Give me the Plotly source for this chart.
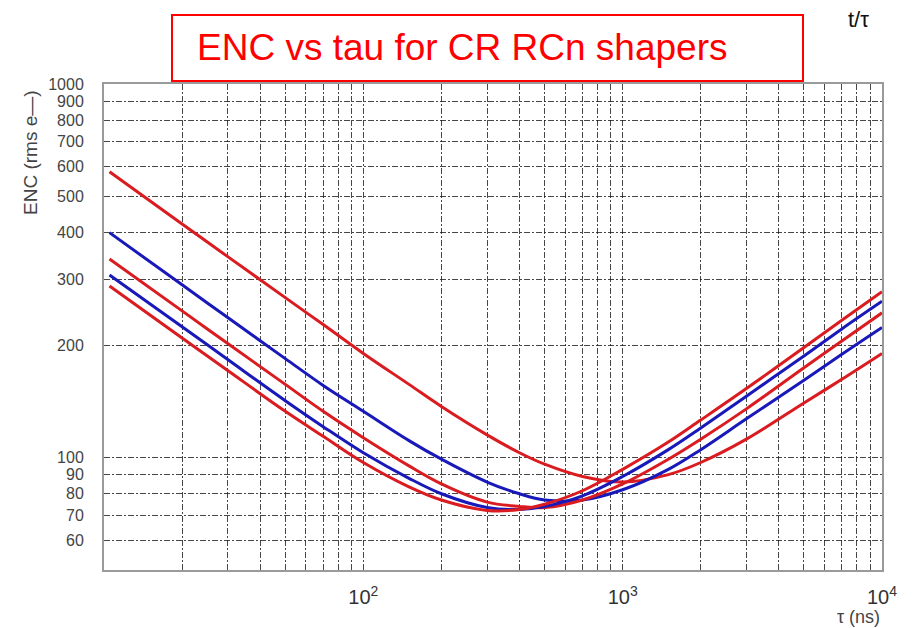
import plotly.graph_objects as go

# Shaping time (ns)
tau_ns = [10.5, 20, 30, 50, 70, 100, 150, 200, 300, 400, 500, 700,
          1000, 1500, 2000, 3000, 5000, 7000, 10000]

# ENC (rms electrons) for the five shaper configurations
enc_red_1 = [582, 422, 345, 268, 227, 190, 157, 137, 115, 103, 96, 89,
             86, 90, 97, 112, 140, 162, 190]
enc_blue_1 = [400, 290, 237, 184, 156, 133, 111, 99, 86, 80, 77, 77,
              82, 93, 105, 127, 161, 189, 223]
enc_red_2 = [340, 247, 202, 157, 133, 113, 95, 85, 76, 74, 73.5, 77,
             85, 99, 112, 135, 174, 205, 244]
enc_blue_2 = [308, 224, 183, 142, 121, 103, 88, 80, 73.5, 72.6, 74, 79,
              89, 105, 120, 146, 187, 221, 262]
enc_red_3 = [288, 209, 171, 133, 114, 97, 83.5, 77, 72.2, 72.6, 75, 81.5,
             93, 110, 126, 153, 197, 233, 278]

series = [
    (enc_red_1, "rgb(218,28,32)"),
    (enc_blue_1, "rgb(25,25,185)"),
    (enc_red_2, "rgb(218,28,32)"),
    (enc_blue_2, "rgb(25,25,185)"),
    (enc_red_3, "rgb(218,28,32)"),
]

# Axis ticks / grid
x_major = [100, 1000, 10000]
x_major_text = ["10<sup>2</sup>", "10<sup>3</sup>", "10<sup>4</sup>"]
x_minor = [m * 10 ** e for e in (1, 2, 3) for m in range(1, 10)
           if m * 10 ** e not in x_major]
y_ticks = [60, 70, 80, 90, 100, 200, 300, 400, 500, 600, 700, 800, 900, 1000]
y_text = [str(v) for v in y_ticks]

title_text = "ENC vs tau for CR RCn shapers"

fig = go.Figure()
for vals, color in series:
    fig.add_trace(go.Scatter(
        x=tau_ns, y=vals, mode="lines",
        line=dict(color=color, width=3, shape="spline", smoothing=1.0),
        showlegend=False, hoverinfo="skip",
    ))

grid_dash = "6px,2px,2px,2px"
grid_color = "rgba(25,25,25,0.8)"
W, H = 918, 628
L, R, T, B = 104, 36, 84, 58
pw, ph = W - L - R, H - T - B


def px(xp):
    return (xp - L) / pw


def py(yp):
    return (H - B - yp) / ph


fig.update_layout(
    width=W, height=H,
    margin=dict(l=L, r=R, t=T, b=B),
    paper_bgcolor="white", plot_bgcolor="white",
    font=dict(family="Liberation Sans, Arial, sans-serif", color="#444"),
    xaxis=dict(
        type="log", range=[1, 4],
        tickmode="array", tickvals=x_major, ticktext=x_major_text,
        tickfont=dict(size=20, color="#333"), ticklabelstandoff=8,
        showgrid=True, gridcolor=grid_color, gridwidth=1,
        griddash=grid_dash,
        minor=dict(tickmode="array", tickvals=x_minor, showgrid=True,
                   gridcolor=grid_color, gridwidth=1, griddash=grid_dash,
                   ticks=""),
        showline=True, linecolor="#9a9a9a", linewidth=2, mirror=True,
        ticks="", zeroline=False,
    ),
    yaxis=dict(
        type="log", range=[1.699, 3],
        tickmode="array", tickvals=y_ticks, ticktext=y_text,
        tickfont=dict(size=16, color="#444"),
        showgrid=True, gridcolor=grid_color, gridwidth=1,
        griddash=grid_dash,
        showline=True, linecolor="#9a9a9a", linewidth=2, mirror=True,
        ticks="", ticklabelstandoff=15, zeroline=False,
    ),
    shapes=[
        dict(type="rect", xref="paper", yref="paper",
             x0=px(172), x1=px(803), y0=py(81), y1=py(15),
             line=dict(color="#ff0000", width=2), fillcolor="white",
             layer="above"),
    ],
    annotations=[
        dict(text=title_text, xref="paper", yref="paper",
             x=px(195), y=py(48), xanchor="left", yanchor="middle",
             showarrow=False,
             font=dict(size=37, color="#ff0000",
                       family="Liberation Sans, Arial, sans-serif")),
        dict(text="t/τ", xref="paper", yref="paper",
             x=px(846), y=py(19), xanchor="left", yanchor="middle",
             showarrow=False, font=dict(size=22, color="#111")),
        dict(text="ENC (rms e—)", xref="paper", yref="paper",
             x=px(30), y=py(153), xanchor="center", yanchor="middle",
             textangle=-90, showarrow=False,
             font=dict(size=19, color="#444")),
        dict(text="τ (ns)", xref="paper", yref="paper",
             x=1, y=py(617), xanchor="right", yanchor="middle",
             showarrow=False, font=dict(size=18, color="#444")),
    ],
)

fig.write_html("out.html")
